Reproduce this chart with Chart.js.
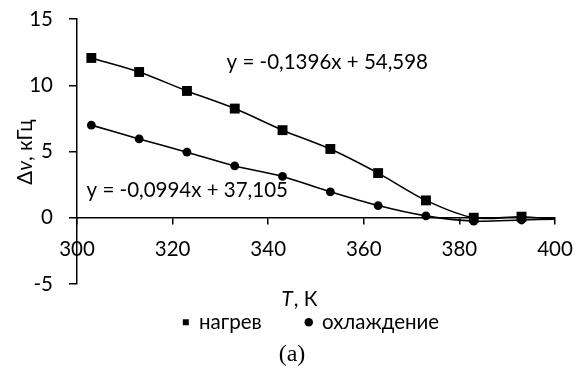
<!DOCTYPE html>
<html>
<head>
<meta charset="utf-8">
<script src="https://cdn.jsdelivr.net/npm/chart.js@4/dist/chart.umd.min.js"></script>
<style>
html,body{margin:0;padding:0;background:#fff;}
#wrap{width:580px;height:371px;position:relative;}
</style>
</head>
<body>
<div id="wrap"><canvas id="c" width="580" height="371"></canvas></div>
<script>
// ---- data ----
const temperatures = [303, 313, 323, 333, 343, 353, 363, 373, 383, 393, 400];
const heating = [12.06, 11.0, 9.57, 8.24, 6.61, 5.19, 3.37, 1.31, 0.0, 0.08, -0.1];
const cooling = [6.99, 5.95, 4.95, 3.91, 3.12, 1.96, 0.92, 0.14, -0.25, -0.17, -0.1];
const seriesNames = ['нагрев', 'охлаждение'];
const xTicks = [300, 320, 340, 360, 380, 400];
const yTicks = [-5, 0, 5, 10, 15];
const heatingEq = 'y = -0,1396x + 54,598';
const coolingEq = 'y = -0,0994x + 37,105';
const caption = '(a)';

const FONT = 'Lato';
const FS = 20.5;
const lastIdx = temperatures.length - 1;

const textPlugin = {
  id: 'texts',
  afterLayout(chart) {
    const lg = chart.legend;
    if (lg) { lg.top -= 16; lg.bottom -= 16; lg.left -= 5; lg.right -= 5; }
  },
  afterDraw(chart) {
    const ctx = chart.ctx;
    const xs = chart.scales.x, ys = chart.scales.y;
    ctx.save();
    ctx.fillStyle = '#000';
    ctx.textBaseline = 'middle';
    ctx.textAlign = 'left';
    ctx.font = FS + 'px ' + FONT;
    // trendline equations
    ctx.fillText(heatingEq, xs.getPixelForValue(331.3), ys.getPixelForValue(11.7));
    ctx.fillText(coolingEq, xs.getPixelForValue(302.0), ys.getPixelForValue(2.08));
    // x title: "T, К" (T italic)
    const xt1 = 'T', xt2 = ', К';
    ctx.font = 'italic ' + FS + 'px ' + FONT;
    const w1 = ctx.measureText(xt1).width;
    ctx.font = FS + 'px ' + FONT;
    const w2 = ctx.measureText(xt2).width;
    let x0 = 299 - (w1 + w2) / 2;
    const yT = 299;
    ctx.font = 'italic ' + FS + 'px ' + FONT;
    ctx.fillText(xt1, x0, yT);
    ctx.font = FS + 'px ' + FONT;
    ctx.fillText(xt2, x0 + w1 + 1, yT);
    // caption
    ctx.textAlign = 'center';
    ctx.font = '24px "Liberation Serif"';
    ctx.fillText(caption, 292, 355);
    ctx.textAlign = 'left';
    // y title: "Δv, кГц" rotated, v italic
    ctx.translate(25, 152);
    ctx.rotate(-Math.PI / 2);
    const p1 = 'Δ', p2 = 'v', p3 = ', кГц';
    ctx.font = FS + 'px ' + FONT;
    const a = ctx.measureText(p1).width, c = ctx.measureText(p3).width;
    ctx.font = 'italic ' + FS + 'px ' + FONT;
    const b = ctx.measureText(p2).width;
    let s = -(a + b + c) / 2;
    ctx.font = FS + 'px ' + FONT;
    ctx.fillText(p1, s, 0);
    ctx.font = 'italic ' + FS + 'px ' + FONT;
    ctx.fillText(p2, s + a, 0);
    ctx.font = FS + 'px ' + FONT;
    ctx.fillText(p3, s + a + b, 0);
    ctx.restore();
  }
};

new Chart(document.getElementById('c'), {
  type: 'line',
  data: {
    datasets: [
      {
        label: seriesNames[0],
        data: temperatures.map((t, i) => ({x: t, y: heating[i]})),
        borderColor: '#000',
        backgroundColor: '#000',
        borderWidth: 1.6,
        pointStyle: 'rect',
        pointRadius: ctx => ctx.dataIndex === lastIdx ? 0 : 7,
        pointBackgroundColor: '#000',
        pointBorderColor: '#000',
        pointBorderWidth: 0,
        tension: 0.3,
        fill: false
      },
      {
        label: seriesNames[1],
        data: temperatures.map((t, i) => ({x: t, y: cooling[i]})),
        borderColor: '#000',
        backgroundColor: '#000',
        borderWidth: 1.6,
        pointStyle: 'circle',
        pointRadius: ctx => ctx.dataIndex === lastIdx ? 0 : 4.4,
        pointBackgroundColor: '#000',
        pointBorderColor: '#000',
        pointBorderWidth: 0,
        tension: 0.3,
        fill: false
      }
    ]
  },
  options: {
    responsive: false,
    animation: false,
    devicePixelRatio: 1,
    layout: { padding: { left: 0, right: 25, top: 19, bottom: 12.5 } },
    scales: {
      x: {
        type: 'linear',
        position: { y: 0 },
        min: xTicks[0], max: xTicks[xTicks.length - 1],
        afterBuildTicks: sc => { sc.ticks = xTicks.map(v => ({value: v})); },
        afterFit: sc => { sc.paddingLeft = 0; sc.paddingRight = 0; },
        grid: { display: true, drawOnChartArea: false, drawTicks: true, tickLength: 6, color: '#000', lineWidth: 1.5 },
        border: { display: true, color: '#000', width: 1.5 },
        ticks: { color: '#000', font: { family: FONT, size: FS }, padding: 13, maxRotation: 0 }
      },
      y: {
        type: 'linear',
        position: 'left',
        min: yTicks[0], max: yTicks[yTicks.length - 1],
        afterBuildTicks: sc => { sc.ticks = yTicks.map(v => ({value: v})); },
        afterFit: sc => { sc.width = 77; sc.paddingTop = 0; sc.paddingBottom = 0; },
        grid: { display: true, drawOnChartArea: false, drawTicks: true, tickLength: 8, color: '#000', lineWidth: 1.5 },
        border: { display: true, color: '#000', width: 1.5 },
        ticks: { color: '#000', font: { family: FONT, size: FS }, padding: 16 }
      }
    },
    plugins: {
      legend: {
        display: true,
        position: 'bottom',
        fullSize: false,
        labels: {
          usePointStyle: true,
          boxWidth: 6, boxHeight: 6,
          color: '#000',
          font: { family: FONT, size: FS },
          padding: 44
        }
      },
      title: { display: false },
      tooltip: { enabled: false }
    }
  },
  plugins: [textPlugin]
});
</script>
</body>
</html>
